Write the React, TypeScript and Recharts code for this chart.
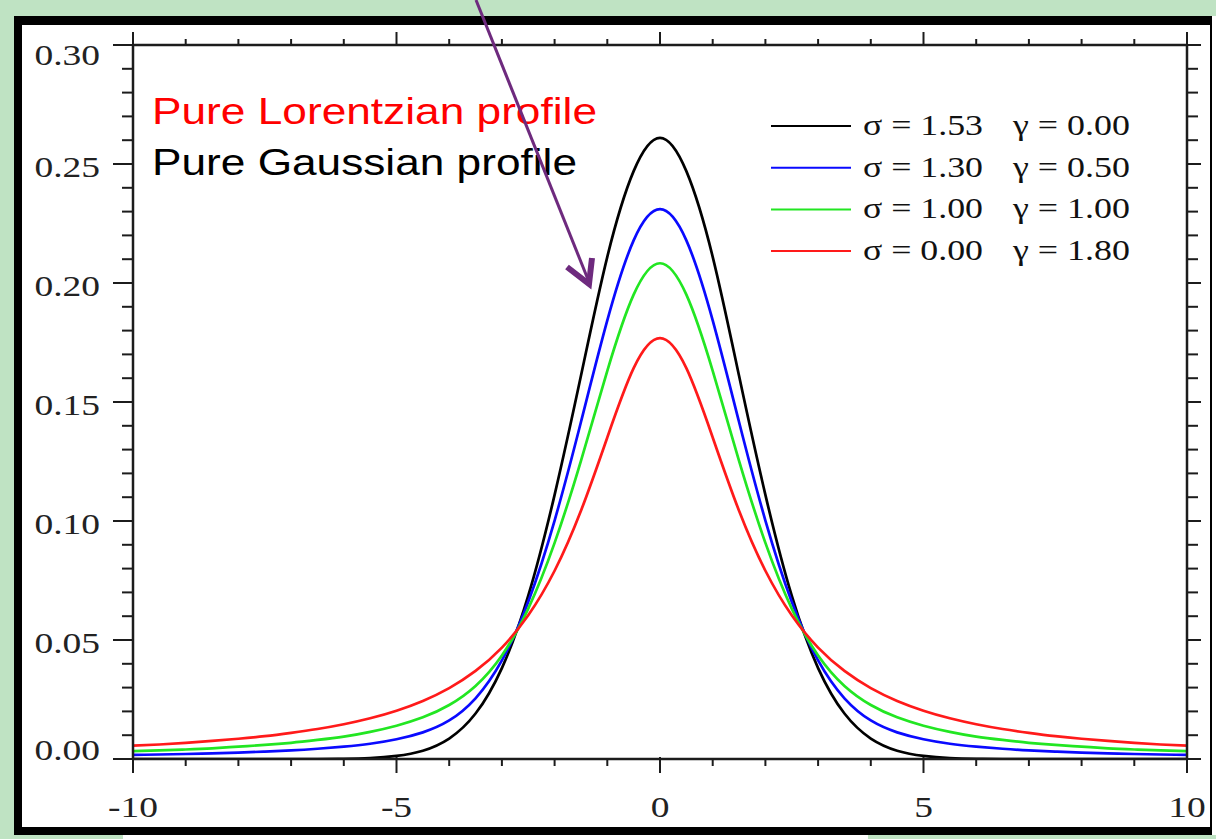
import React from 'react';
import { LineChart, Line, XAxis, YAxis } from 'recharts';

// Sample positions along the horizontal axis
const xValues = [
  -10, -9.5, -9, -8.5, -8, -7.5, -7, -6.5, -6, -5.5, -5, -4.5, -4, -3.5, -3, -2.5, -2, -1.5, -1, -0.5,
  0, 0.5, 1, 1.5, 2, 2.5, 3, 3.5, 4, 4.5, 5, 5.5, 6, 6.5, 7, 7.5, 8, 8.5, 9, 9.5, 10,
];

// σ = 1.53, γ = 0.00 (pure Gaussian)
const gaussian = [
  0, 0, 0, 0, 0, 0, 0, 0, 0.0001, 0.0004, 0.0013, 0.0035, 0.0086, 0.0191, 0.0382, 0.0686, 0.111, 0.161, 0.211, 0.247,
  0.261, 0.247, 0.211, 0.161, 0.111, 0.0686, 0.0382, 0.0191, 0.0086, 0.0035, 0.0013, 0.0004, 0.0001, 0, 0, 0, 0, 0, 0, 0, 0,
];

// σ = 1.30, γ = 0.50
const voigtBlue = [
  0.0017, 0.0019, 0.0021, 0.0024, 0.0027, 0.0031, 0.0036, 0.0043, 0.0052, 0.0064, 0.0083, 0.0112, 0.0162, 0.0255, 0.0414, 0.0661, 0.1002, 0.1416, 0.1843, 0.2179,
  0.231, 0.2179, 0.1843, 0.1416, 0.1002, 0.0661, 0.0414, 0.0255, 0.0162, 0.0112, 0.0083, 0.0064, 0.0052, 0.0043, 0.0036, 0.0031, 0.0027, 0.0024, 0.0021, 0.0019, 0.0017,
];

// σ = 1.00, γ = 1.00
const voigtGreen = [
  0.0033, 0.0036, 0.004, 0.0045, 0.0052, 0.0059, 0.0068, 0.008, 0.0094, 0.0114, 0.014, 0.0175, 0.0227, 0.0307, 0.0435, 0.0632, 0.0908, 0.1253, 0.1631, 0.1951,
  0.2083, 0.1951, 0.1631, 0.1253, 0.0908, 0.0632, 0.0435, 0.0307, 0.0227, 0.0175, 0.014, 0.0114, 0.0094, 0.008, 0.0068, 0.0059, 0.0052, 0.0045, 0.004, 0.0036, 0.0033,
];

// σ = 0.00, γ = 1.80 (pure Lorentzian)
const lorentzian = [
  0.0056, 0.0061, 0.0068, 0.0076, 0.0085, 0.0096, 0.011, 0.0126, 0.0146, 0.0171, 0.0203, 0.0244, 0.0298, 0.037, 0.0468, 0.0604, 0.0791, 0.1043, 0.1351, 0.1642,
  0.1768, 0.1642, 0.1351, 0.1043, 0.0791, 0.0604, 0.0468, 0.037, 0.0298, 0.0244, 0.0203, 0.0171, 0.0146, 0.0126, 0.011, 0.0096, 0.0085, 0.0076, 0.0068, 0.0061, 0.0056,
];

const xTicks = [-10, -9, -8, -7, -6, -5, -4, -3, -2, -1, 0, 1, 2, 3, 4, 5, 6, 7, 8, 9, 10];
const xMajorTicks = [-10, -5, 0, 5, 10];
const yTicks = [
  0, 0.01, 0.02, 0.03, 0.04, 0.05, 0.06, 0.07, 0.08, 0.09, 0.1, 0.11, 0.12, 0.13, 0.14, 0.15,
  0.16, 0.17, 0.18, 0.19, 0.2, 0.21, 0.22, 0.23, 0.24, 0.25, 0.26, 0.27, 0.28, 0.29, 0.3,
];
const yMajorTicks = [0, 0.05, 0.1, 0.15, 0.2, 0.25, 0.3];

const seriesKeys = ['black', 'blue', 'green', 'red'];
const seriesColors = ['#000000', '#0a0aff', '#22e622', '#ff1a1a'];
const legendSigma = ['σ = 1.53', 'σ = 1.30', 'σ = 1.00', 'σ = 0.00'];
const legendGamma = ['γ = 0.00', 'γ = 0.50', 'γ = 1.00', 'γ = 1.80'];

const data = xValues.map((x, i) => ({
  x,
  black: gaussian[i],
  blue: voigtBlue[i],
  green: voigtGreen[i],
  red: lorentzian[i],
}));

const AXIS = '#1c1c1c';
const SERIF = '"Liberation Serif", "Times New Roman", serif';
const SANS = '"Liberation Sans", Arial, sans-serif';
const GREEN_BG = '#bfe3c3';
const STRETCH = 1.25;

const isMajorX = (v: number) => xMajorTicks.some((m) => Math.abs(m - v) < 1e-9);
const isMajorY = (v: number) => yMajorTicks.some((m) => Math.abs(m - v) < 1e-9);

function BottomTick(props: any) {
  const { x, y, payload } = props;
  const major = isMajorX(payload.value);
  return (
    <g>
      <line x1={x} x2={x} y1={major ? y - 2 : y} y2={y + (major ? 14 : 7)} stroke={AXIS} strokeWidth={2} />
      {major && (
        <text
          transform={`translate(${x},${y + 58}) scale(${STRETCH},1)`}
          textAnchor="middle"
          fontFamily={SERIF}
          fontSize={30}
          fill="#222"
        >
          {String(payload.value)}
        </text>
      )}
    </g>
  );
}

function TopTick(props: any) {
  const { x, y, payload } = props;
  const major = isMajorX(payload.value);
  return <line x1={x} x2={x} y1={y} y2={y - (major ? 13 : 6)} stroke={AXIS} strokeWidth={2} />;
}

function LeftTick(props: any) {
  const { x, y, payload } = props;
  const v = payload.value as number;
  const major = isMajorY(v);
  let dy = 13;
  if (Math.abs(v - 0.3) < 1e-9) dy = 20;
  if (Math.abs(v) < 1e-9) dy = 1;
  return (
    <g>
      <line x1={x} x2={x - (major ? 20 : 11)} y1={y} y2={y} stroke={AXIS} strokeWidth={2} />
      {major && (
        <text
          transform={`translate(${x - 33},${y + dy}) scale(${STRETCH},1)`}
          textAnchor="end"
          fontFamily={SERIF}
          fontSize={30}
          fill="#222"
        >
          {v.toFixed(2)}
        </text>
      )}
    </g>
  );
}

function RightTick(props: any) {
  const { x, y, payload } = props;
  const major = isMajorY(payload.value);
  return <line x1={x} x2={x + (major ? 14 : 11)} y1={y} y2={y} stroke={AXIS} strokeWidth={2} />;
}

export default function App() {
  return (
    <div style={{ position: 'absolute', left: 0, top: 0, width: 1216, height: 839, background: '#ffffff', overflow: 'hidden' }}>
      {/* green surround */}
      <div style={{ position: 'absolute', left: 0, top: 0, width: 1216, height: 16, background: GREEN_BG }} />
      <div style={{ position: 'absolute', left: 0, top: 0, width: 14, height: 839, background: GREEN_BG }} />
      <div style={{ position: 'absolute', left: 0, top: 835, width: 123, height: 4, background: GREEN_BG }} />
      <div style={{ position: 'absolute', left: 868, top: 835, width: 348, height: 4, background: GREEN_BG }} />
      {/* black frame */}
      <div
        style={{
          position: 'absolute',
          left: 14,
          top: 16,
          width: 1198,
          height: 819,
          boxSizing: 'border-box',
          borderTop: '9px solid #000',
          borderLeft: '8px solid #000',
          borderBottom: '8px solid #000',
          borderRight: '2px solid #000',
          background: '#fff',
        }}
      />
      <div style={{ position: 'absolute', left: 0, top: 0 }}>
        <LineChart width={1216} height={839} data={data} margin={{ top: 0, right: 0, bottom: 0, left: 0 }}>
          <XAxis
            xAxisId="bottom"
            dataKey="x"
            type="number"
            domain={[-10, 10]}
            ticks={xTicks}
            interval={0}
            height={80}
            tickSize={0}
            tickMargin={0}
            tickLine={false}
            axisLine={{ stroke: AXIS, strokeWidth: 2.5 }}
            tick={(p: any) => <BottomTick {...p} />}
            allowDataOverflow
          />
          <XAxis
            xAxisId="top"
            orientation="top"
            dataKey="x"
            type="number"
            domain={[-10, 10]}
            ticks={xTicks}
            interval={0}
            height={45}
            tickSize={0}
            tickMargin={0}
            tickLine={false}
            axisLine={{ stroke: AXIS, strokeWidth: 2.5 }}
            tick={(p: any) => <TopTick {...p} />}
            allowDataOverflow
          />
          <YAxis
            yAxisId="left"
            type="number"
            domain={[0, 0.3]}
            ticks={yTicks}
            interval={0}
            width={133}
            tickSize={0}
            tickMargin={0}
            tickLine={false}
            axisLine={{ stroke: AXIS, strokeWidth: 2.5 }}
            tick={(p: any) => <LeftTick {...p} />}
            allowDataOverflow
          />
          <YAxis
            yAxisId="right"
            orientation="right"
            type="number"
            domain={[0, 0.3]}
            ticks={yTicks}
            interval={0}
            width={29}
            tickSize={0}
            tickMargin={0}
            tickLine={false}
            axisLine={{ stroke: AXIS, strokeWidth: 2.5 }}
            tick={(p: any) => <RightTick {...p} />}
            allowDataOverflow
          />
          {seriesKeys.map((k, i) => (
            <Line
              key={k}
              xAxisId="bottom"
              yAxisId="left"
              type="natural"
              dataKey={k}
              stroke={seriesColors[i]}
              strokeWidth={2.7}
              dot={false}
              isAnimationActive={false}
            />
          ))}
        </LineChart>
      </div>
      <svg width={1216} height={839} style={{ position: 'absolute', left: 0, top: 0, pointerEvents: 'none' }}>
        {/* profile captions */}
        <text x={152} y={124} fontFamily={SANS} fontSize={36} fill="#ff0000" textLength={445} lengthAdjust="spacingAndGlyphs">
          Pure Lorentzian profile
        </text>
        <text x={152} y={175} fontFamily={SANS} fontSize={36} fill="#000000" textLength={425} lengthAdjust="spacingAndGlyphs">
          Pure Gaussian profile
        </text>
        {/* legend */}
        {seriesKeys.map((k, i) => {
          const ly = 126 + i * 41.7;
          return (
            <g key={k}>
              <line x1={771} x2={851} y1={ly} y2={ly} stroke={seriesColors[i]} strokeWidth={2} />
              <text x={863} y={ly + 9} fontFamily={SERIF} fontSize={30} fill="#111" textLength={120} lengthAdjust="spacingAndGlyphs">
                {legendSigma[i]}
              </text>
              <text x={1013} y={ly + 9} fontFamily={SERIF} fontSize={30} fill="#111" textLength={117} lengthAdjust="spacingAndGlyphs">
                {legendGamma[i]}
              </text>
            </g>
          );
        })}
        {/* pointer arrow */}
        <line x1={476} y1={0} x2={589} y2={282} stroke="#6e2a7e" strokeWidth={3} />
        <polyline points="567,267 589,284 592,258" fill="none" stroke="#6e2a7e" strokeWidth={6} strokeLinejoin="miter" strokeLinecap="butt" />
      </svg>
    </div>
  );
}
